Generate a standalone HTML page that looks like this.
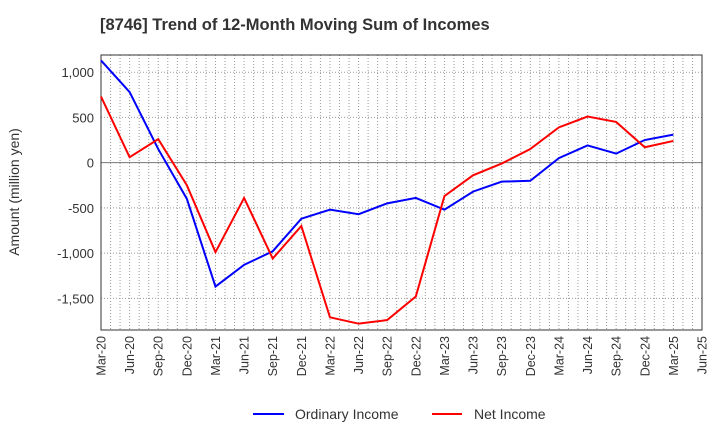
<!DOCTYPE html>
<html><head><meta charset="utf-8"><style>
body{margin:0;background:#fff;font-family:"Liberation Sans",sans-serif;}
</style></head><body>
<svg width="720" height="440" xmlns="http://www.w3.org/2000/svg">
<text x="100" y="30" font-size="16.5" font-weight="bold" fill="#333">[8746]  Trend of 12-Month Moving Sum of Incomes</text>
<g id="grid"></g>
<g id="axes"></g>
<g id="series"></g>
<text transform="translate(19,192) rotate(-90)" text-anchor="middle" font-size="14" fill="#333">Amount (million yen)</text>
<g>
<line x1="253" y1="414" x2="284" y2="414" stroke="#0000ff" stroke-width="2"/>
<text x="295" y="419" font-size="14" fill="#333">Ordinary Income</text>
<line x1="432" y1="414" x2="462" y2="414" stroke="#ff0000" stroke-width="2"/>
<text x="474" y="419" font-size="14" fill="#333">Net Income</text>
</g>
</svg>
<script>
const categories=["Mar-20","Jun-20","Sep-20","Dec-20","Mar-21","Jun-21","Sep-21","Dec-21","Mar-22","Jun-22","Sep-22","Dec-22","Mar-23","Jun-23","Sep-23","Dec-23","Mar-24","Jun-24","Sep-24","Dec-24","Mar-25","Jun-25"];
const ordinaryIncome=[1130,780,150,-400,-1370,-1130,-980,-620,-520,-570,-450,-390,-520,-320,-210,-200,50,190,100,250,310];
const netIncome=[730,60,260,-250,-990,-390,-1060,-700,-1710,-1780,-1740,-1480,-370,-140,-10,150,390,510,450,170,240];
const yTicks=[1000,500,0,-500,-1000,-1500];
const yTickLabels=["1,000","500","0","-500","-1,000","-1,500"];
const NS="http://www.w3.org/2000/svg";
const L=101,R=702,T=55,B=330,YMAX=1190,YMIN=-1850;
const step=(R-L)/(categories.length-1);
function xs(i){return L+i*step;}
function ys(v){return T+(YMAX-v)/(YMAX-YMIN)*(B-T);}
function mk(tag,attrs,parent){const e=document.createElementNS(NS,tag);for(const k in attrs)e.setAttribute(k,attrs[k]);parent.appendChild(e);return e;}
const grid=document.getElementById('grid'),axes=document.getElementById('axes'),series=document.getElementById('series');
for(let m=1;m<(categories.length-1)*3;m++){
  const x=L+m*step/3;
  const g=mk('line',{x1:x,y1:T,x2:x,y2:B,stroke:'#999','stroke-dasharray':'1,2'},grid);
  
  
}
yTicks.forEach((v,i)=>{
  const y=ys(v);
  const g=mk('line',{x1:L,y1:y,x2:R,y2:y,stroke:v===0?'#777':'#999','stroke-dasharray':v===0?'none':'1,2'},grid);
  
  
  const t=mk('text',{x:L-7,y:y+5,'text-anchor':'end','font-size':13,fill:'#333'},axes);
  t.textContent=yTickLabels[i];
  
  
});
const frame=mk('rect',{x:L,y:T,width:R-L,height:B-T,fill:'none',stroke:'#333'},axes);


categories.forEach((c,i)=>{
  const x=xs(i);
  const t=mk('text',{transform:`translate(${x+4.5},${B+6}) rotate(-90)`,'text-anchor':'end','font-size':12.5,fill:'#333'},axes);
  t.textContent=c;
  
  
});
function line(data,color,name){
  const p=mk('polyline',{points:data.map((v,i)=>xs(i)+','+ys(v)).join(' '),fill:'none',stroke:color,'stroke-width':2},series);
  
  
}
line(ordinaryIncome,'#0000ff','ordinary-income-line');
line(netIncome,'#ff0000','net-income-line');
</script>
</body></html>
